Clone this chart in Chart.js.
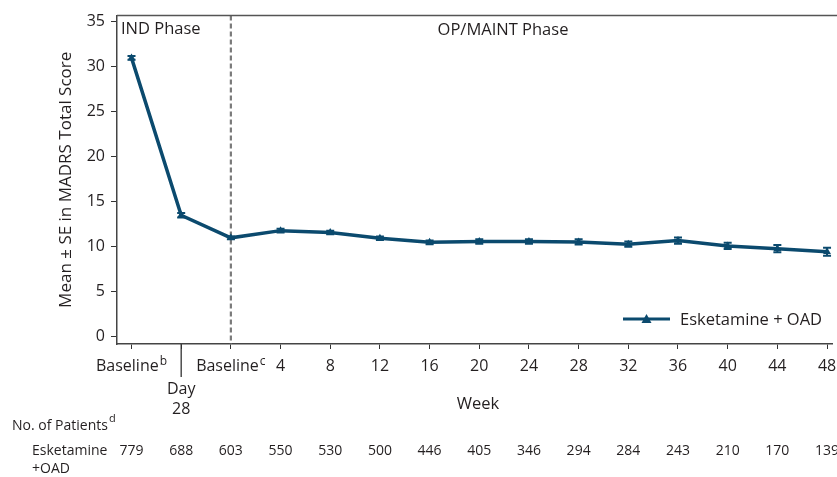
<!DOCTYPE html>
<html>
<head>
<meta charset="utf-8">
<script src="https://cdn.jsdelivr.net/npm/chart.js@4.4.1/dist/chart.umd.min.js"></script>
<style>
  html, body { margin: 0; padding: 0; background: #fff; }
  #wrap { width: 837px; height: 477px; position: relative; }
</style>
</head>
<body>
<div id="wrap"><canvas id="madrs"></canvas></div>
<script>
// x categories (index positions on a linear scale); [text, superscript]
const xLabels = [['Baseline', 'b'], ['Day', '28'], ['Baseline', 'c'], '4', '8', '12', '16', '20', '24', '28', '32', '36', '40', '44', '48'];
// mean MADRS total score and standard error, Esketamine + OAD
const meanScore = [31.0, 13.5, 11.0, 11.8, 11.6, 10.95, 10.5, 10.6, 10.6, 10.55, 10.3, 10.7, 10.1, 9.8, 9.45];
const seScore   = [0.2, 0.25, 0.15, 0.2, 0.2, 0.2, 0.2, 0.25, 0.25, 0.3, 0.3, 0.35, 0.35, 0.4, 0.45];
// number of patients at each visit
const nPatients = [779, 688, 603, 550, 530, 500, 446, 405, 346, 294, 284, 243, 210, 170, 139];
const yTicks = [0, 5, 10, 15, 20, 25, 30, 35];

const FONT = '"Open Sans", sans-serif';
const INK = '#231f20';
const LINE = '#0b4a6e';
const DAY28 = 1, BASE_C = 2;

const extras = {
  id: 'extras',
  beforeDatasetsDraw(chart) {
    const { ctx, chartArea: a, scales: { x } } = chart;
    const px = x.getPixelForValue(BASE_C);
    ctx.save();
    ctx.strokeStyle = '#7a7a7a';
    ctx.lineWidth = 2.2;
    ctx.setLineDash([5, 3]);
    ctx.beginPath(); ctx.moveTo(px, a.top); ctx.lineTo(px, a.bottom); ctx.stroke();
    ctx.restore();
  },
  afterDatasetsDraw(chart) {
    const { ctx, chartArea: a, scales: { x, y } } = chart;
    ctx.save();
    // error bars
    ctx.strokeStyle = LINE; ctx.lineWidth = 2;
    meanScore.forEach((m, i) => {
      const cx = x.getPixelForValue(i);
      const t = y.getPixelForValue(m + seScore[i]), b = y.getPixelForValue(m - seScore[i]);
      ctx.beginPath();
      ctx.moveTo(cx, t); ctx.lineTo(cx, b);
      ctx.moveTo(cx - 4, t); ctx.lineTo(cx + 4, t);
      ctx.moveTo(cx - 4, b); ctx.lineTo(cx + 4, b);
      ctx.stroke();
    });
    // top frame line
    ctx.strokeStyle = '#555'; ctx.lineWidth = 1.5;
    ctx.beginPath(); ctx.moveTo(a.left, a.top); ctx.lineTo(chart.width, a.top); ctx.stroke();
    // long separator tick under Day 28
    const dx = x.getPixelForValue(DAY28);
    ctx.strokeStyle = '#333'; ctx.lineWidth = 1.3;
    ctx.beginPath(); ctx.moveTo(dx, a.bottom); ctx.lineTo(dx, a.bottom + 33); ctx.stroke();

    ctx.fillStyle = INK;
    ctx.font = '16.5px ' + FONT;
    ctx.textBaseline = 'middle';
    ctx.textAlign = 'left';
    ctx.fillText('IND Phase', a.left + 4, a.top + 14);
    ctx.textAlign = 'center';
    ctx.fillText('OP/MAINT Phase', 503, a.top + 15);
    ctx.fillText('Week', 478, a.bottom + 60);

    // multi-part x labels (superscripts, two-line Day 28)
    ctx.font = '16px ' + FONT;
    ctx.fillText(xLabels[DAY28][0], dx, a.bottom + 45);
    ctx.fillText(xLabels[DAY28][1], dx, a.bottom + 65);
    [0, BASE_C].forEach(i => {
      const [txt, sup] = xLabels[i];
      ctx.font = '16px ' + FONT;
      const w1 = ctx.measureText(txt).width;
      ctx.font = '12px ' + FONT;
      const w2 = ctx.measureText(sup).width;
      const x0 = x.getPixelForValue(i) - (w1 + w2 + 1) / 2;
      ctx.textAlign = 'left';
      ctx.font = '16px ' + FONT;
      ctx.fillText(txt, x0, a.bottom + 22);
      ctx.font = '12px ' + FONT;
      ctx.fillText(sup, x0 + w1 + 1, a.bottom + 18);
    });

    // legend
    ctx.font = '16.5px ' + FONT;
    const ly = a.bottom - 25, lx0 = 623, lx1 = 670;
    ctx.strokeStyle = LINE; ctx.lineWidth = 3;
    ctx.beginPath(); ctx.moveTo(lx0, ly); ctx.lineTo(lx1, ly); ctx.stroke();
    const tx = (lx0 + lx1) / 2;
    ctx.fillStyle = LINE;
    ctx.beginPath(); ctx.moveTo(tx, ly - 5); ctx.lineTo(tx + 5, ly + 4); ctx.lineTo(tx - 5, ly + 4); ctx.closePath(); ctx.fill();
    ctx.fillStyle = INK; ctx.textAlign = 'left';
    ctx.fillText('Esketamine + OAD', lx1 + 10, ly + 1);

    // patients table
    ctx.font = '14px ' + FONT;
    ctx.fillText('No. of Patients', 12, 426);
    const w = ctx.measureText('No. of Patients').width;
    ctx.font = '11px ' + FONT;
    ctx.fillText('d', 12 + w + 1, 419);
    ctx.font = '14px ' + FONT;
    ctx.fillText('Esketamine', 32, 451);
    ctx.fillText('+OAD', 32, 469);
    ctx.textAlign = 'center';
    nPatients.forEach((n, i) => ctx.fillText(String(n), x.getPixelForValue(i), 451));
    ctx.restore();
  }
};

new Chart(document.getElementById('madrs'), {
  type: 'line',
  data: {
    datasets: [{
      label: 'Esketamine + OAD',
      data: meanScore.map((v, i) => ({ x: i, y: v })),
      borderColor: LINE,
      backgroundColor: LINE,
      borderWidth: 3.5,
      pointStyle: 'triangle',
      pointRadius: 4.5,
      pointBorderWidth: 0,
      tension: 0
    }]
  },
  options: {
    responsive: true,
    maintainAspectRatio: false,
    animation: false,
    layout: { padding: { top: 12, right: 1, left: 0, bottom: 0 } },
    plugins: { legend: { display: false }, tooltip: { enabled: false } },
    scales: {
      x: {
        type: 'linear',
        min: -0.292, max: 14.11,
        afterFit: s => { s.height = 133; s.paddingLeft = 0; s.paddingRight = 0; },
        afterBuildTicks: s => { s.ticks = xLabels.map((_, i) => ({ value: i })); },
        ticks: {
          color: INK, font: { family: FONT, size: 16 }, padding: 8,
          maxRotation: 0, autoSkip: false,
          callback: v => (Array.isArray(xLabels[v]) ? '' : xLabels[v])
        },
        grid: { drawOnChartArea: false, drawTicks: true, tickLength: 5, color: '#333' },
        border: { color: '#444', width: 1.5 }
      },
      y: {
        min: -0.8, max: 35.7,
        afterFit: s => { s.width = 117; },
        afterBuildTicks: s => { s.ticks = yTicks.map(v => ({ value: v })); },
        ticks: { color: INK, font: { family: FONT, size: 16 }, padding: 6 },
        grid: { drawOnChartArea: false, drawTicks: true, tickLength: 6, color: '#333' },
        border: { color: '#444', width: 1.5 },
        title: {
          display: true, text: 'Mean ± SE in MADRS Total Score',
          color: INK, font: { family: FONT, size: 17 }, padding: { top: 56 }
        }
      }
    }
  },
  plugins: [extras]
});
</script>
</body>
</html>
